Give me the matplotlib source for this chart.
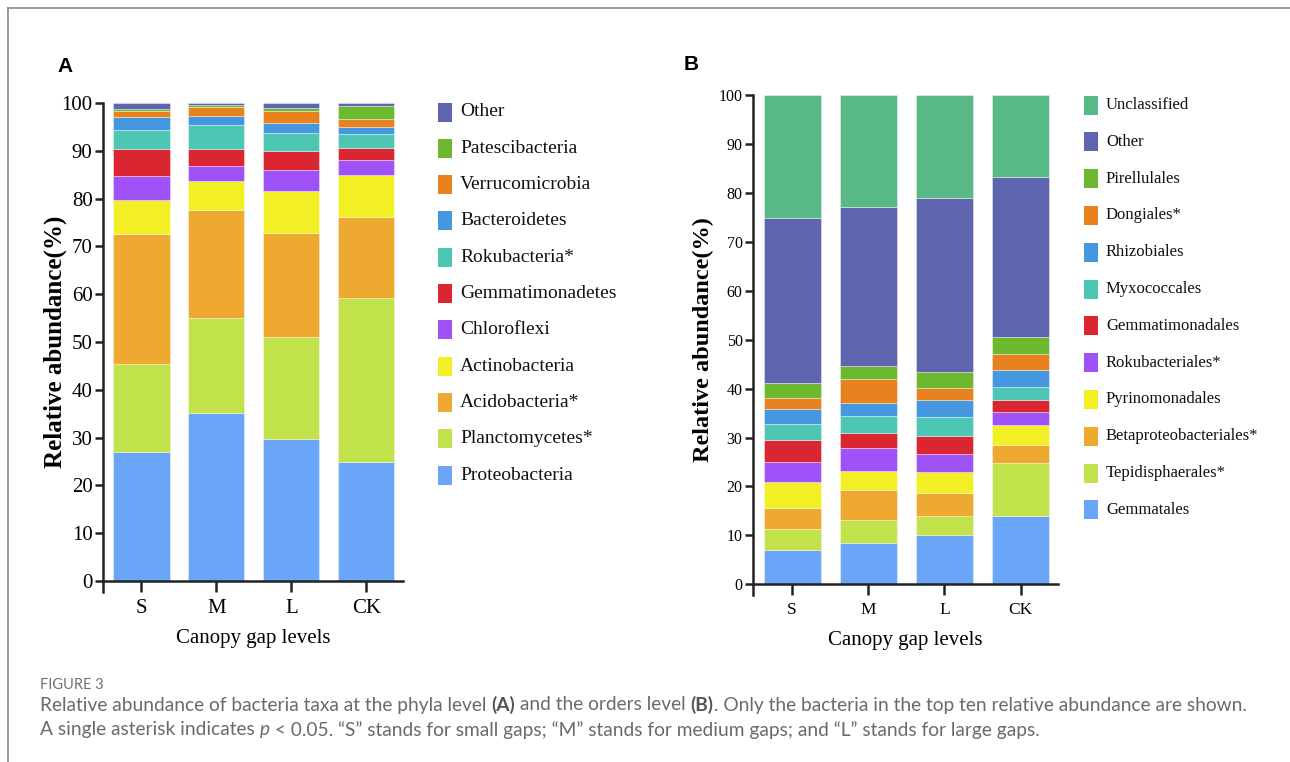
import numpy as np
import matplotlib
matplotlib.use('Agg')
import matplotlib.pyplot as plt
from matplotlib.patches import Rectangle
from matplotlib.lines import Line2D

W, H = 1290, 762
SERIF = 'Liberation Serif'
SANS = 'Lato'

groups = ['S', 'M', 'L', 'CK']

# panel A - phyla level (bottom -> top), % per group S, M, L, CK
phyla = ['Proteobacteria', 'Planctomycetes*', 'Acidobacteria*', 'Actinobacteria',
         'Chloroflexi', 'Gemmatimonadetes', 'Rokubacteria*', 'Bacteroidetes',
         'Verrucomicrobia', 'Patescibacteria', 'Other']
proteobacteria = [27.0, 35.1, 29.7, 25.0]
planctomycetes = [18.3, 19.9, 21.3, 34.2]
acidobacteria = [27.2, 22.7, 21.7, 16.9]
actinobacteria = [7.2, 5.9, 8.9, 8.9]
chloroflexi = [5.1, 3.3, 4.4, 3.0]
gemmatimonadetes = [5.6, 3.4, 4.0, 2.6]
rokubacteria = [4.0, 5.0, 3.8, 2.9]
bacteroidetes = [2.6, 1.9, 2.1, 1.4]
verrucomicrobia = [1.4, 2.0, 2.5, 1.8]
patescibacteria = [0.4, 0.3, 0.6, 2.6]
other_a = [1.2, 0.5, 1.0, 0.7]

# panel B - orders level (bottom -> top)
orders = ['Gemmatales', 'Tepidisphaerales*', 'Betaproteobacteriales*', 'Pyrinomonadales',
          'Rokubacteriales*', 'Gemmatimonadales', 'Myxococcales', 'Rhizobiales',
          'Dongiales*', 'Pirellulales', 'Other', 'Unclassified']
gemmatales = [7.1, 8.5, 10.1, 13.9]
tepidisphaerales = [4.2, 4.7, 3.8, 10.9]
betaproteobacteriales = [4.4, 6.0, 4.8, 3.7]
pyrinomonadales = [5.2, 3.9, 4.2, 4.0]
rokubacteriales = [4.1, 4.7, 3.7, 2.8]
gemmatimonadales = [4.6, 3.2, 3.7, 2.4]
myxococcales = [3.2, 3.4, 4.0, 2.6]
rhizobiales = [3.1, 2.7, 3.4, 3.5]
dongiales = [2.2, 4.9, 2.4, 3.3]
pirellulales = [3.1, 2.6, 3.3, 3.4]
other_b = [33.7, 32.5, 35.5, 32.7]
unclassified = [25.1, 22.9, 21.1, 16.8]

colors = ['#6aa5f8', '#c1e24a', '#eda930', '#f2f024', '#9e52f7', '#da2630',
          '#4ec6b4', '#4598df', '#e8821e', '#6cb82f', '#5e64ad', '#58b986']

data_a = [proteobacteria, planctomycetes, acidobacteria, actinobacteria, chloroflexi,
          gemmatimonadetes, rokubacteria, bacteroidetes, verrucomicrobia,
          patescibacteria, other_a]
data_b = [gemmatales, tepidisphaerales, betaproteobacteriales, pyrinomonadales,
          rokubacteriales, gemmatimonadales, myxococcales, rhizobiales, dongiales,
          pirellulales, other_b, unclassified]


def fx(px):
    return px / W


def fy(py):
    return 1 - py / H


fig = plt.figure(figsize=(W / 100, H / 100), dpi=100)
fig.patch.set_facecolor('white')

# frame lines (top & left only)
fig.add_artist(Line2D([fx(8), 1], [fy(7.5), fy(7.5)], color='#8a8a8a', lw=1.2))
fig.add_artist(Line2D([fx(8), fx(8)], [fy(7.5), 0], color='#8a8a8a', lw=1.2))


def stacked(ax, data, tick_fs, xt_fs, lab_fs):
    x = np.arange(len(groups))
    bottom = np.zeros(len(groups))
    for vals, c in zip(data, colors):
        ax.bar(x, vals, width=0.75, bottom=bottom, color=c,
               edgecolor=(1, 1, 1, 0.45), linewidth=0.6, zorder=2)
        bottom += np.array(vals)
    ax.set_xlim(-0.513, 3.49)
    ax.set_ylim(0, 100)
    ax.set_yticks(range(0, 101, 10))
    ax.set_xticks(x)
    ax.set_xticklabels(groups)
    for s in ['top', 'right']:
        ax.spines[s].set_visible(False)
    for s in ['left', 'bottom']:
        ax.spines[s].set_linewidth(1.8)
        ax.spines[s].set_color('#222222')
    ax.spines['left'].set_bounds(-2.2, 100)
    ax.tick_params(axis='y', length=6, width=1.8, color='#222222', pad=1.5,
                   labelsize=tick_fs, labelfontfamily=SERIF)
    ax.tick_params(axis='x', length=8, width=1.8, color='#222222', pad=5,
                   labelsize=xt_fs, labelfontfamily=SERIF)
    ax.set_ylabel('Relative abundance(%)', fontsize=lab_fs, fontweight='bold',
                  family=SERIF, va='center')
    ax.set_xlabel('Canopy gap levels', fontsize=15, family=SERIF, va='center')


# panel A
axA = fig.add_axes([fx(103), fy(581), fx(300), 478 / H])
stacked(axA, data_a, 15, 15, 18)
axA.yaxis.set_label_coords(-0.16, 0.5)
axA.xaxis.set_label_coords(0.5, (581 - 638) / 478)

# panel B
axB = fig.add_axes([fx(753), fy(584.3), fx(305), 489 / H])
stacked(axB, data_b, 11.5, 12.5, 17.5)
axB.yaxis.set_label_coords((703 - 753) / 305, 0.5)
axB.xaxis.set_label_coords(0.5, (584.3 - 640) / 489)

fig.text(fx(57), fy(66), 'A', fontsize=15, fontweight='bold', family='Liberation Sans',
         va='center', ha='left')
fig.text(fx(684), fy(65), 'B', fontsize=15, fontweight='bold', family='Liberation Sans',
         va='center', ha='left')


# legends (top entry first)
def legend(names, x_sq, y0, dy, fs):
    for i, name in enumerate(names[::-1]):
        c = colors[len(names) - 1 - i]
        yc = y0 + dy * i
        fig.add_artist(Rectangle((fx(x_sq), fy(yc + 9.5)), fx(14), 19 / H,
                                 facecolor=c, edgecolor='none'))
        fig.text(fx(x_sq + 22), fy(yc), name, fontsize=fs, family=SERIF,
                 va='center', ha='left', color='#111111')


legend(phyla, 438, 112, 36.3, 14)
legend(orders, 1084, 105, 36.8, 12)

# caption
fig.text(fx(40), fy(685), 'FIGURE 3', fontsize=10.5, family=SANS, color='#707070',
         va='center', ha='left')

renderer = fig.canvas.get_renderer()


def width_of(s, **kw):
    t1 = fig.text(0, 0, '|' + s + '|', **kw)
    t2 = fig.text(0, 0, '||', **kw)
    w = t1.get_window_extent(renderer).width - t2.get_window_extent(renderer).width
    t1.remove()
    t2.remove()
    return w


def rich(x_px, y_px, parts, fs=13.8):
    x = x_px
    for s, style in parts:
        kw = dict(fontsize=fs, family=SANS, color='#6a6a6a')
        if style == 'b':
            kw['fontweight'] = 'bold'
            kw['color'] = '#555555'
        elif style == 'i':
            kw['fontstyle'] = 'italic'
        fig.text(fx(x), fy(y_px), s, va='center', ha='left', **kw)
        x += width_of(s, **kw)


rich(40, 705, [('Relative abundance of bacteria taxa at the phyla level ', ''),
               ('(A)', 'b'), (' and the orders level ', ''), ('(B)', 'b'),
               ('. Only the bacteria in the top ten relative abundance are shown.', '')])
rich(40, 730, [('A single asterisk indicates ', ''), ('p', 'i'),
               (' < 0.05. \u201cS\u201d stands for small gaps; \u201cM\u201d stands for '
                'medium gaps; and \u201cL\u201d stands for large gaps.', '')])

fig.savefig('out.png', dpi=100, facecolor='white')
